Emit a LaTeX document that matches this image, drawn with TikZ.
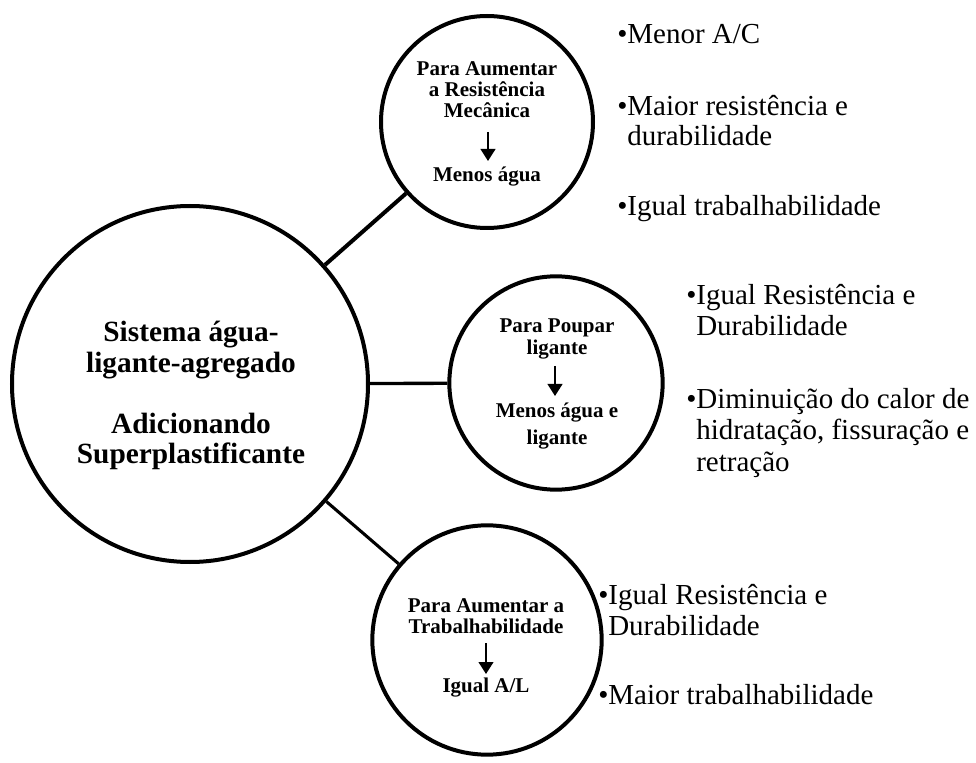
\documentclass[tikz,border=0pt]{standalone}
\usepackage{fontspec}
\setmainfont{Liberation Serif}
\usetikzlibrary{arrows.meta}

\begin{document}
\begin{tikzpicture}[x=0.75pt,y=-0.75pt,
  ring/.style={draw=black,line width=3pt,circle,inner sep=0pt,fill=white},
  link/.style={draw=black,line width=2.6pt},
  ctext/.style={anchor=base,inner sep=0pt,font=\fontsize{15.75}{17}\selectfont\bfseries},
  btext/.style={anchor=base,inner sep=0pt,font=\fontsize{22}{23}\selectfont\bfseries},
  item/.style={anchor=base west,inner sep=0pt,font=\fontsize{21.75}{23}\selectfont},
  down/.style={line width=1.6pt,-{Triangle[width=11pt,length=9pt]}}]

\useasboundingbox (0,0) rectangle (976,763);

% circles
\node[ring,minimum size=267pt] (main) at (190,384) {};
\node[ring,minimum size=159pt] (res)  at (487,122) {};
\node[ring,minimum size=160pt] (lig)  at (556,383) {};
\node[ring,minimum size=172pt] (trab) at (487,640) {};

% links between the central circle and the three branches
\draw[link,line width=3pt] (main) -- (res);
\draw[link,line width=2.5pt] (main) -- (lig);
\draw[link,line width=2.3pt] (main) -- (trab);

% central circle text
\node[btext] (m1) at (191,342) {Sistema água-};
\node[btext] (m2) at (191,373) {ligante-agregado};
\node[btext] (m3) at (191,433) {Adicionando};
\node[btext] (m4) at (191,463) {Superplastificante};

% upper branch
\node[ctext] (r1) at (487,76)  {Para Aumentar};
\node[ctext] (r2) at (487,97)  {a Resistência};
\node[ctext] (r3) at (487,118) {Mecânica};
\node[ctext] (r4) at (487,182) {Menos água};
\coordinate (ra) at (488,132);
\coordinate (rb) at (488,161);
\draw[down] (ra) -- (rb);

% middle branch
\node[ctext] (l1) at (557,333) {Para Poupar};
\node[ctext] (l2) at (557,355) {ligante};
\node[ctext] (l3) at (557,417) {Menos água e};
\node[ctext] (l4) at (557,445) {ligante};
\coordinate (la) at (555,366);
\coordinate (lb) at (555,396);
\draw[down] (la) -- (lb);

% lower branch
\node[ctext] (t1) at (486,612) {Para Aumentar a};
\node[ctext] (t2) at (486,633) {Trabalhabilidade};
\node[ctext] (t3) at (486,692) {Igual A/L};
\coordinate (ta) at (486,643);
\coordinate (tb) at (486,674);
\draw[down] (ta) -- (tb);

% bullet lists
\node[item] (a1) at (617,44)  {•Menor A/C};
\node[item] (a2) at (617,116) {•Maior resistência e};
\node[item] (a3) at (627,146) {durabilidade};
\node[item] (a4) at (617,216) {•Igual trabalhabilidade};

\node[item] (b1) at (686,305) {•Igual Resistência e};
\node[item] (b2) at (696,336) {Durabilidade};
\node[item] (b3) at (686,408) {•Diminuição do calor de};
\node[item] (b4) at (696,440) {hidratação, fissuração e};
\node[item] (b5) at (696,471) {retração};

\node[item] (c1) at (598,604) {•Igual Resistência e};
\node[item] (c2) at (608,635) {Durabilidade};
\node[item] (c3) at (598,704) {•Maior trabalhabilidade};
\end{tikzpicture}
\end{document}
